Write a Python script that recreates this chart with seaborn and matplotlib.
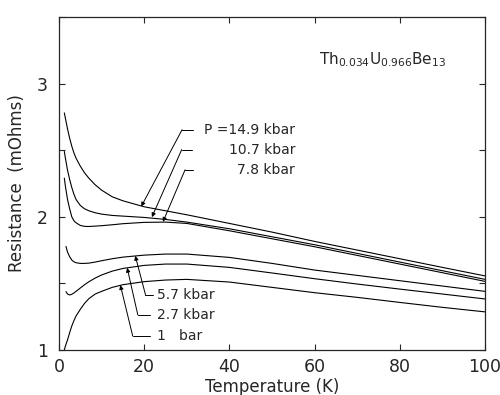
import numpy as np
import pandas as pd
import seaborn as sns
import matplotlib.pyplot as plt
from matplotlib.ticker import MultipleLocator

# Set the aesthetic style of the plot
sns.set_style("ticks")
plt.rcParams['font.family'] = ['DejaVu Sans']
plt.rcParams['mathtext.fontset'] = 'dejavusans'

# Temperature grids (K)
temp_a = [1.25, 1.5, 2, 2.5, 3, 3.5, 4, 5, 6, 7, 8.5, 10, 12.5, 15, 20, 25, 30,
          40, 50, 60, 70, 80, 90, 100]
temp_b = [1.64, 2, 2.5, 3, 3.5, 4, 5, 6, 7, 8.5, 10, 12.5, 15, 20, 25, 30,
          40, 50, 60, 70, 80, 90, 100]

# Resistance (mOhms) for each pressure
r_149 = [2.78, 2.74, 2.66, 2.59, 2.53, 2.48, 2.44, 2.38, 2.33, 2.29, 2.24, 2.20,
         2.15, 2.12, 2.075, 2.045, 2.015, 1.95, 1.885, 1.815, 1.75, 1.685, 1.62, 1.556]
r_107 = [2.49, 2.44, 2.35, 2.28, 2.22, 2.17, 2.13, 2.085, 2.06, 2.045, 2.03, 2.02,
         2.01, 2.005, 1.995, 1.98, 1.96, 1.91, 1.85, 1.79, 1.725, 1.66, 1.595, 1.53]
r_78 = [2.29, 2.23, 2.13, 2.06, 2.00, 1.97, 1.955, 1.935, 1.928, 1.927, 1.93, 1.933,
        1.94, 1.948, 1.958, 1.96, 1.95, 1.895, 1.835, 1.775, 1.71, 1.645, 1.58, 1.515]
r_57 = [1.777, 1.735, 1.70, 1.675, 1.662, 1.655, 1.65, 1.65, 1.652, 1.66, 1.67,
        1.685, 1.697, 1.712, 1.72, 1.72, 1.695, 1.65, 1.60, 1.56, 1.52, 1.48, 1.44]
r_27 = [1.438, 1.42, 1.413, 1.418, 1.428, 1.44, 1.465, 1.49, 1.512, 1.54, 1.563,
        1.592, 1.612, 1.635, 1.645, 1.645, 1.62, 1.578, 1.535, 1.495, 1.457, 1.42, 1.383]
r_1 = [1.0, 1.03, 1.075, 1.13, 1.18, 1.22, 1.255, 1.305, 1.35, 1.385, 1.42, 1.44,
       1.47, 1.49, 1.513, 1.525, 1.53, 1.51, 1.47, 1.43, 1.395, 1.357, 1.32, 1.286]

curves = [(temp_a, r_149), (temp_a, r_107), (temp_a, r_78),
          (temp_b, r_57), (temp_b, r_27), (temp_a, r_1)]

fig, ax = plt.subplots(figsize=(5, 3.95), dpi=100)
fig.subplots_adjust(left=0.118, right=0.97, bottom=0.114, top=0.957)

for temps, res in curves:
    df = pd.DataFrame({'T': temps, 'R': res})
    sns.lineplot(data=df, x='T', y='R', color='black', lw=0.8, ax=ax)

# Labels with leader lines: (text, text x, y, corner x, end x, arrow tip, align)
labels = [
    ("P =14.9 kbar", 55.4, 2.654, 28.9, 31.5, (19.3, 2.077), 'right'),
    ("10.7 kbar", 55.4, 2.504, 28.8, 31.2, (21.8, 1.997), 'right'),
    ("7.8 kbar", 55.4, 2.353, 29.6, 31.5, (24.4, 1.962), 'right'),
    ("5.7 kbar", 23.0, 1.415, 20.3, 22.1, (17.9, 1.707), 'left'),
    ("2.7 kbar", 23.0, 1.263, 18.5, 21.4, (16.0, 1.617), 'left'),
    ("1   bar", 23.0, 1.105, 17.3, 21.4, (14.4, 1.487), 'left'),
]
for text, tx, ty, cx, ex, tip, ha in labels:
    ax.text(tx, ty, text, ha=ha, va='center', fontsize=10)
    ax.plot([cx, ex], [ty, ty], color='black', lw=0.7)
    ax.annotate("", xy=tip, xytext=(cx, ty),
                arrowprops=dict(arrowstyle='-|>', color='black', lw=0.7,
                                mutation_scale=6, shrinkA=0, shrinkB=0))

ax.text(76, 3.18, r'Th$_{0.034}$U$_{0.966}$Be$_{13}$', ha='center', va='center',
        fontsize=11)

ax.set_xlim(0, 100)
ax.set_ylim(1, 3.5)
ax.xaxis.set_major_locator(MultipleLocator(20))
ax.yaxis.set_major_locator(MultipleLocator(1))
ax.yaxis.set_minor_locator(MultipleLocator(0.5))
ax.tick_params(which='both', direction='in', top=True, right=True, length=4,
               width=0.8, labelsize=12.5)
ax.tick_params(axis='x', pad=6)
ax.tick_params(axis='y', pad=8)
for s in ax.spines.values():
    s.set_linewidth(0.9)
ax.set_xlabel('Temperature (K)', fontsize=12, labelpad=1)
ax.set_ylabel('Resistance  (mOhms)', fontsize=12, labelpad=8)

plt.savefig('out.png', dpi=100)
